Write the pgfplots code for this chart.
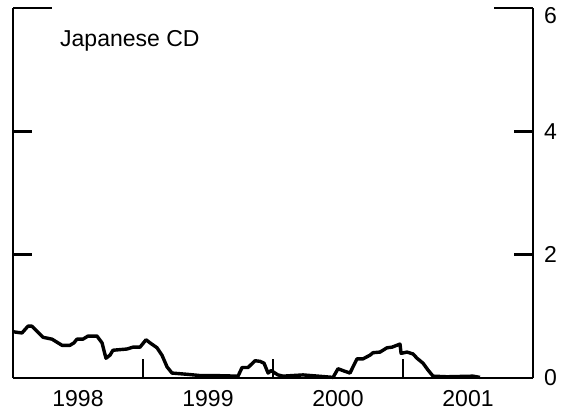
\documentclass[border=0pt]{standalone}
\usepackage{pgfplots}
\pgfplotsset{compat=1.18}
\usepackage{fontspec}
\setmainfont{Liberation Sans}
\begin{document}
\begin{tikzpicture}
\begin{axis}[
  name=ax,
  scale only axis,
  width=260pt, height=185pt,
  xmin=1998, xmax=2002, ymin=0, ymax=6,
  axis x line*=bottom, axis y line*=box,
  axis line style={line width=1.4pt},
  every tick/.style={line width=1.4pt, black},
  tick align=inside,
  major tick length=9.5pt,
  xtick={1998,1999,2000,2001,2002},
  x tick label as interval,
  xticklabels={1998,1999,2000,2001},
  ytick={0,2,4},
  ytick pos=both,
  yticklabel pos=right,
  extra y ticks={6},
  extra y tick style={major tick length=19.5pt, yticklabel pos=right,
     yticklabel style={yshift=-4pt}},
  minor tick num=0,
  /pgf/number format/assume math mode=true,
  ticklabel style={font=\fontsize{11.5}{13}\selectfont},
  yticklabel style={xshift=2pt},
  xticklabel style={yshift=-2.5pt},
  clip=false,
]
\addplot[black, line width=1.7pt, line join=round] coordinates {
(1998.000,0.75) (1998.069,0.73) (1998.115,0.84) (1998.146,0.84) (1998.231,0.66)
(1998.300,0.63) (1998.377,0.53) (1998.438,0.53) (1998.469,0.57) (1998.492,0.63)
(1998.538,0.63) (1998.577,0.68) (1998.646,0.68) (1998.685,0.57) (1998.715,0.32)
(1998.746,0.37) (1998.769,0.45) (1998.877,0.47) (1998.923,0.50) (1998.977,0.50)
(1999.023,0.62) (1999.054,0.57) (1999.108,0.49) (1999.146,0.37) (1999.185,0.18)
(1999.223,0.08) (1999.338,0.06) (1999.438,0.04) (1999.538,0.04) (1999.731,0.03)
(1999.762,0.17) (1999.808,0.17) (1999.862,0.28) (1999.900,0.27) (1999.931,0.24)
(1999.962,0.08) (1999.985,0.12) (2000.038,0.05) (2000.077,0.03) (2000.231,0.05)
(2000.462,0.01) (2000.500,0.15) (2000.538,0.12) (2000.592,0.08) (2000.646,0.31)
(2000.692,0.31) (2000.746,0.37) (2000.769,0.41) (2000.823,0.42) (2000.877,0.49)
(2000.915,0.50) (2000.977,0.55) (2000.985,0.40) (2001.031,0.42) (2001.077,0.39)
(2001.108,0.32) (2001.154,0.24) (2001.192,0.13) (2001.231,0.03) (2001.338,0.02)
(2001.538,0.03) (2001.592,0.01)
};
\node[anchor=base west, font=\fontsize{11.5}{13}\selectfont, inner sep=0pt] at (rel axis cs:0.09,0.897) {Japanese CD};
\end{axis}
\pgfresetboundingbox
\path[use as bounding box] ([shift={(-6.5pt,-16pt)}]ax.south west) rectangle ++(283.5pt,205pt);
\end{tikzpicture}
\end{document}
